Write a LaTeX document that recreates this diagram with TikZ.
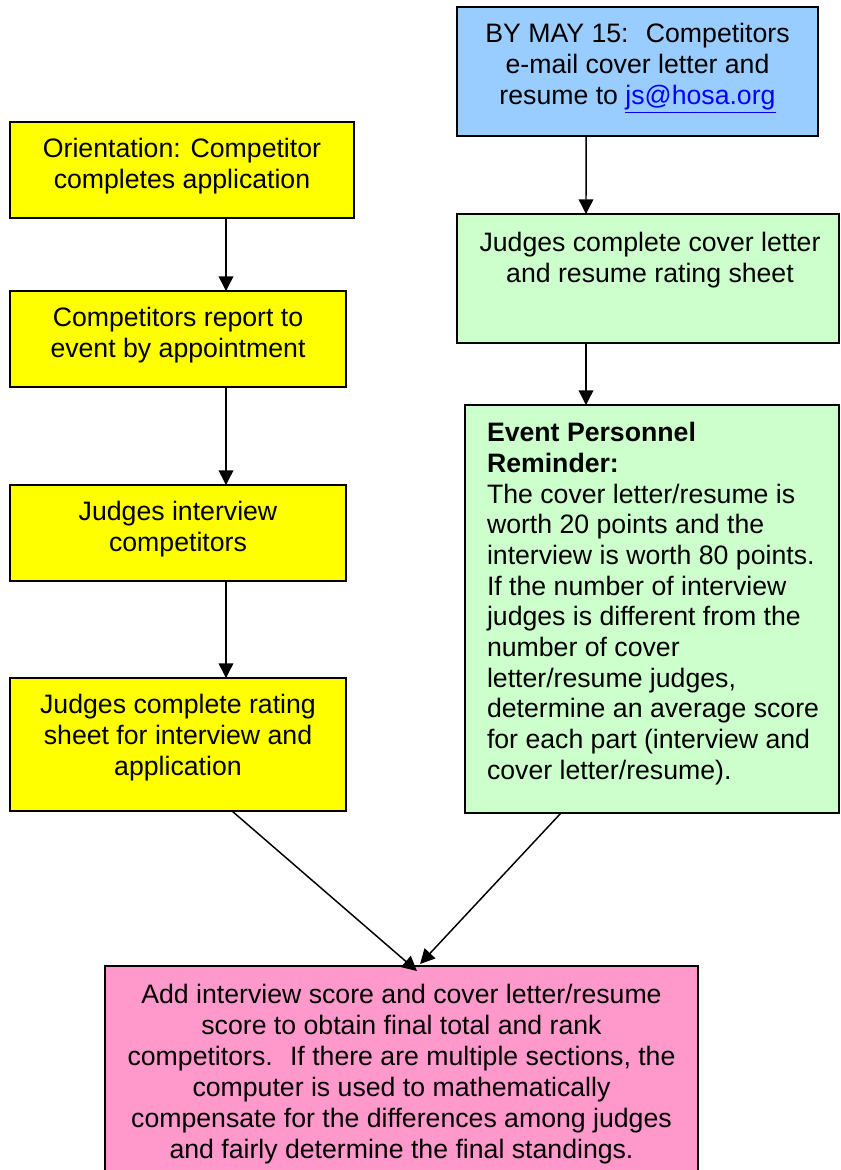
\documentclass[tikz,border=0pt]{standalone}
\usepackage{fontspec}
\setmainfont{Liberation Sans}
\usetikzlibrary{arrows.meta}
\definecolor{cblue}{HTML}{99CCFF}
\definecolor{cyellow}{HTML}{FFFF00}
\definecolor{cgreen}{HTML}{CCFFCC}
\definecolor{cpink}{HTML}{FF99CC}
\definecolor{clink}{HTML}{0000FF}
\tikzset{
  box/.style={draw=black, line width=1.1pt, inner sep=0pt, outer sep=0pt},
  txt/.style={inner sep=0pt, outer sep=0pt, font=\fontsize{20}{23.25}\selectfont, align=center, anchor=north},
  ltxt/.style={inner sep=0pt, outer sep=0pt, font=\fontsize{20}{23}\selectfont, align=left, anchor=north west},
  arr/.style={line width=1.1pt, -{Triangle[width=11pt,length=11pt]}}
}
\begin{document}
\begin{tikzpicture}[x=0.75pt,y=-0.75pt]
\useasboundingbox (0,0) rectangle (840,1170);
% boxes
\node[box, fill=cblue, minimum width=270.75pt, minimum height=96.75pt] (blue) at (637.5,71.5) {};
\node[box, fill=cyellow, minimum width=258pt, minimum height=72pt] (y1) at (182,170) {};
\node[box, fill=cyellow, minimum width=252pt, minimum height=72pt] (y2) at (178,339) {};
\node[box, fill=cyellow, minimum width=252pt, minimum height=72pt] (y3) at (178,533) {};
\node[box, fill=cyellow, minimum width=252pt, minimum height=99.75pt] (y4) at (178,744.5) {};
\node[box, fill=cgreen, minimum width=286.5pt, minimum height=96.75pt] (g1) at (648,278.5) {};
\node[box, fill=cgreen, minimum width=280.5pt, minimum height=306pt] (g2) at (652,609) {};
\node[box, fill=cpink, minimum width=444.75pt, minimum height=160.5pt] (pink) at (401.5,1073) {};
% texts
\node[txt] (tblue) at ([yshift=-10.7pt]blue.north) {\strut BY MAY 15:~ Competitors\\e-mail cover letter and\\resume to \textcolor{clink}{\underline{js@hosa.org}}};
\node[txt] (ty1) at ([yshift=-10pt]y1.north) {\strut Orientation: Competitor\\completes application};
\node[txt] (ty2) at ([yshift=-10.7pt]y2.north) {\strut Competitors report to\\event by appointment};
\node[txt] (ty3) at ([yshift=-10.7pt]y3.north) {\strut Judges interview\\competitors};
\node[txt] (ty4) at ([yshift=-10pt]y4.north) {\strut Judges complete rating\\sheet for interview and\\application};
\node[txt] (tg1) at ([xshift=1.5pt,yshift=-11.5pt]g1.north) {\strut Judges complete cover letter\\and resume rating sheet};
\node[ltxt] (tg2) at ([xshift=16.5pt,yshift=-11.5pt]g2.north west) {\strut\textbf{Event Personnel}\\\textbf{Reminder:}\\The cover letter/resume is\\worth 20 points and the\\interview is worth 80 points.\\If the number of interview\\judges is different from the\\number of cover\\letter/resume judges,\\determine an average score\\for each part (interview and\\cover letter/resume).};
\node[txt] (tpink) at ([yshift=-11.5pt]pink.north) {\strut Add interview score and cover letter/resume\\score to obtain final total and rank\\competitors.~ If there are multiple sections, the\\computer is used to mathematically\\compensate for the differences among judges\\and fairly determine the final standings.};
% connectors
\draw[arr] ([xshift=33pt]y1.south) -- ([xshift=36pt]y2.north);
\draw[arr] ([xshift=36pt]y2.south) -- ([xshift=36pt]y3.north);
\draw[arr] ([xshift=36pt]y3.south) -- ([xshift=36pt]y4.north);
\draw[arr] ([xshift=-38.6pt]blue.south) -- ([xshift=-46.5pt]g1.north);
\draw[arr] ([xshift=-46.5pt]g1.south) -- ([xshift=-49.5pt]g2.north);
\draw[arr] ([xshift=40.5pt]y4.south) -- ([xshift=11.6pt,yshift=-3.75pt]pink.north);
\draw[arr] ([xshift=-68.25pt]g2.south) -- ([xshift=13.9pt,yshift=1.5pt]pink.north);
\end{tikzpicture}
\end{document}
